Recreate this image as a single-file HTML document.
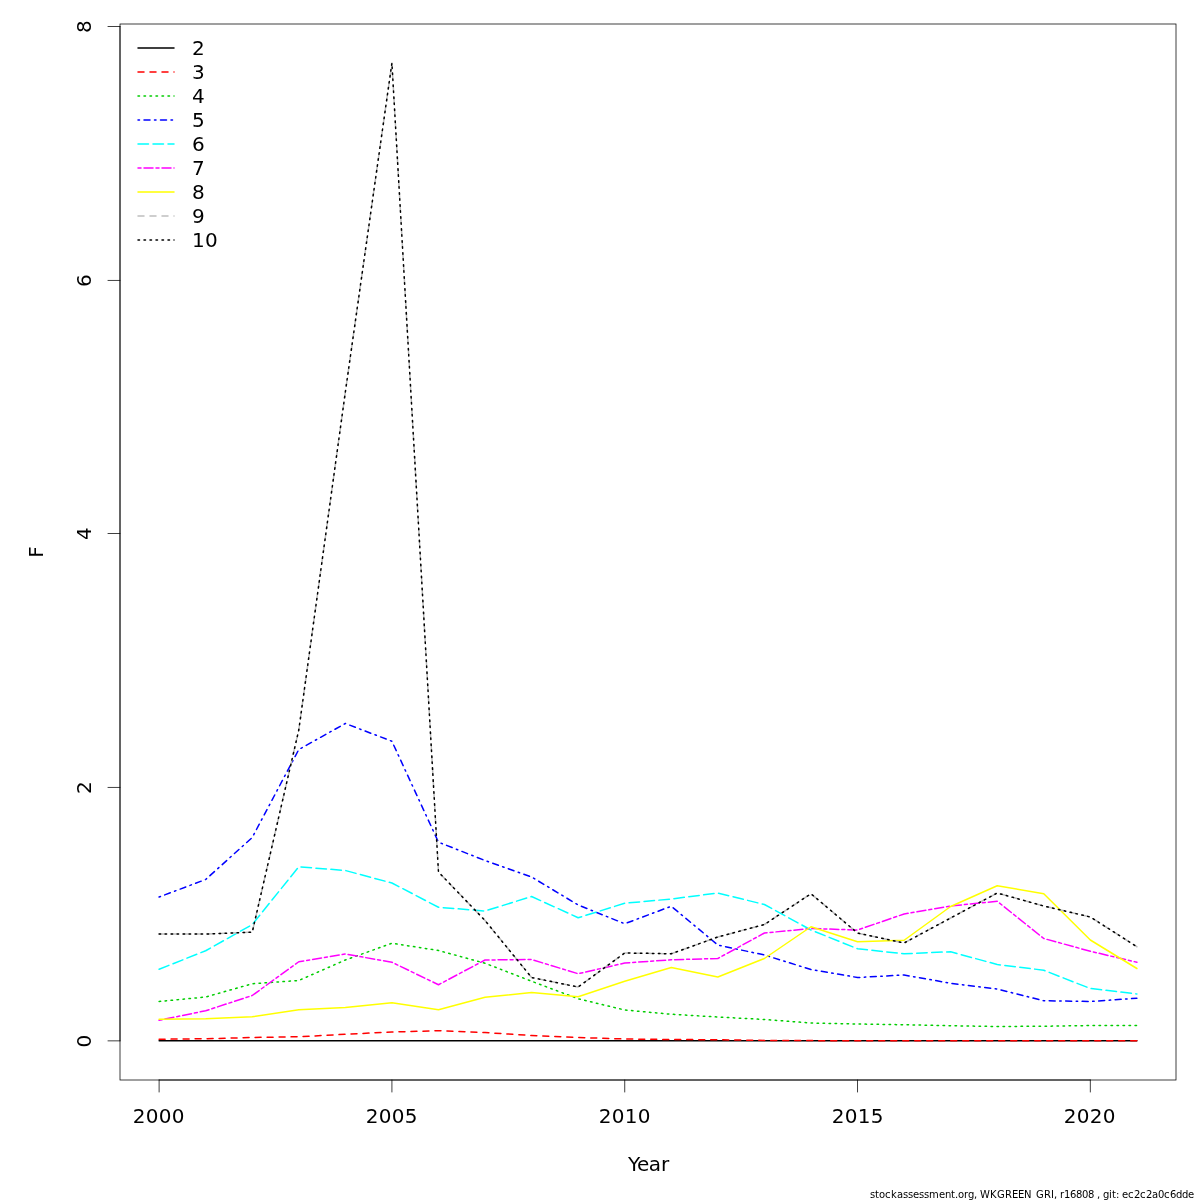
<!DOCTYPE html>
<html lang="en">
<head>
<meta charset="utf-8">
<title>F at age</title>
<style>
html,body{margin:0;padding:0;background:#fff;}
body{width:1200px;height:1200px;overflow:hidden;}
svg{display:block;}
text{font-family:"DejaVu Sans","Liberation Sans",sans-serif;fill:#000;}
.t{font-size:20px;}
.s{font-size:10px;}
.ax{stroke:#000;stroke-width:0.75;fill:none;stroke-linecap:round;stroke-linejoin:round;}
.ln{fill:none;stroke-width:1.5;stroke-linecap:round;stroke-linejoin:round;}
</style>
</head>
<body>
<svg width="1200" height="1200" viewBox="0 0 1200 1200">
<rect x="0" y="0" width="1200" height="1200" fill="#ffffff"/>

<g class="ln">
<polyline points="159.11,1040.85 205.67,1040.85 252.23,1040.85 298.79,1040.85 345.35,1040.85 391.91,1040.85 438.48,1040.85 485.04,1040.85 531.60,1040.85 578.16,1040.85 624.72,1040.85 671.28,1040.85 717.84,1040.85 764.40,1040.85 810.96,1040.85 857.52,1040.85 904.08,1040.85 950.64,1040.85 997.21,1040.85 1043.77,1040.85 1090.33,1040.85 1136.89,1040.85" stroke="#000000"/>
<polyline points="159.11,1039.25 205.67,1038.75 252.23,1037.50 298.79,1036.75 345.35,1034.25 391.91,1032.00 438.48,1030.75 485.04,1032.50 531.60,1035.50 578.16,1037.50 624.72,1039.00 671.28,1039.50 717.84,1039.75 764.40,1040.40 810.96,1040.60 857.52,1040.80 904.08,1040.80 950.64,1040.80 997.21,1040.80 1043.77,1040.80 1090.33,1040.80 1136.89,1040.80" stroke="#FF0000" stroke-dasharray="6 6"/>
<polyline points="159.11,1001.50 205.67,997.00 252.23,983.75 298.79,980.50 345.35,960.00 391.91,943.25 438.48,950.50 485.04,963.25 531.60,981.25 578.16,998.75 624.72,1010.00 671.28,1014.25 717.84,1017.00 764.40,1019.50 810.96,1023.00 857.52,1024.00 904.08,1024.75 950.64,1025.75 997.21,1026.50 1043.77,1026.25 1090.33,1025.50 1136.89,1025.50" stroke="#00CD00" stroke-dasharray="1.5 4.5"/>
<polyline points="159.11,897.00 205.67,879.50 252.23,837.50 298.79,749.50 345.35,723.50 391.91,741.25 438.48,842.20 485.04,860.50 531.60,877.00 578.16,905.00 624.72,923.75 671.28,906.25 717.84,945.00 764.40,955.00 810.96,969.50 857.52,977.50 904.08,975.00 950.64,983.25 997.21,989.00 1043.77,1000.75 1090.33,1001.50 1136.89,998.25" stroke="#0000FF" stroke-dasharray="1.5 4.5 6 4.5"/>
<polyline points="159.11,969.25 205.67,950.75 252.23,924.60 298.79,866.75 345.35,870.50 391.91,883.00 438.48,907.25 485.04,911.00 531.60,896.50 578.16,917.75 624.72,903.25 671.28,899.00 717.84,893.00 764.40,904.50 810.96,930.00 857.52,948.75 904.08,953.75 950.64,951.75 997.21,964.50 1043.77,970.25 1090.33,988.50 1136.89,994.00" stroke="#00FFFF" stroke-dasharray="10.5 4.5"/>
<polyline points="159.11,1020.25 205.67,1010.75 252.23,995.50 298.79,961.75 345.35,954.00 391.91,962.25 438.48,984.75 485.04,960.00 531.60,959.50 578.16,973.75 624.72,963.00 671.28,959.75 717.84,958.50 764.40,933.00 810.96,928.50 857.52,930.00 904.08,914.00 950.64,906.00 997.21,901.25 1043.77,938.50 1090.33,951.25 1136.89,962.25" stroke="#FF00FF" stroke-dasharray="3 3 9 3"/>
<polyline points="159.11,1019.25 205.67,1018.75 252.23,1016.75 298.79,1009.75 345.35,1007.50 391.91,1002.75 438.48,1009.75 485.04,997.25 531.60,992.50 578.16,996.75 624.72,981.25 671.28,967.50 717.84,977.00 764.40,958.50 810.96,926.75 857.52,941.75 904.08,940.25 950.64,906.50 997.21,885.75 1043.77,893.75 1090.33,940.00 1136.89,968.50" stroke="#FFFF00"/>
<polyline points="159.11,934.00 205.67,934.00 252.23,932.25 298.79,730.00 345.35,392.00 391.91,63.10 438.48,872.00 485.04,920.50 531.60,977.50 578.16,987.00 624.72,953.00 671.28,953.75 717.84,937.00 764.40,924.50 810.96,893.75 857.52,933.00 904.08,943.00 950.64,918.00 997.21,893.00 1043.77,906.00 1090.33,917.00 1136.89,946.75" stroke="#BEBEBE" stroke-dasharray="6 6"/>
<polyline points="159.11,934.00 205.67,934.00 252.23,932.25 298.79,730.00 345.35,392.00 391.91,63.10 438.48,872.00 485.04,920.50 531.60,977.50 578.16,987.00 624.72,953.00 671.28,953.75 717.84,937.00 764.40,924.50 810.96,893.75 857.52,933.00 904.08,943.00 950.64,918.00 997.21,893.00 1043.77,906.00 1090.33,917.00 1136.89,946.75" stroke="#000000" stroke-dasharray="1.5 4.5"/>
</g>
<g class="ax">
<path d="M159.11 1080 H1090.33"/>
<path d="M159.11 1080 v12"/>
<path d="M391.91 1080 v12"/>
<path d="M624.72 1080 v12"/>
<path d="M857.52 1080 v12"/>
<path d="M1090.33 1080 v12"/>
<path d="M120 1040.85 V26.50"/>
<path d="M120 1040.85 h-12"/>
<path d="M120 787.45 h-12"/>
<path d="M120 533.50 h-12"/>
<path d="M120 280.45 h-12"/>
<path d="M120 26.50 h-12"/>
<rect x="120" y="24" width="1056" height="1056" stroke-linejoin="miter" stroke-linecap="butt"/>
</g>
<g class="t">
<text x="132.85 145.85 158.85 171.85" y="1123">2000</text>
<text x="365.85 378.85 391.85 404.85" y="1123">2005</text>
<text x="598.85 611.85 624.85 637.85" y="1123">2010</text>
<text x="831.85 844.85 857.85 870.85" y="1123">2015</text>
<text x="1063.85 1076.85 1089.85 1102.85" y="1123">2020</text>
<text text-anchor="middle" transform="translate(91 1041.05) rotate(-90)">0</text>
<text text-anchor="middle" transform="translate(91 787.65) rotate(-90)">2</text>
<text text-anchor="middle" transform="translate(91 533.70) rotate(-90)">4</text>
<text text-anchor="middle" transform="translate(91 280.65) rotate(-90)">6</text>
<text text-anchor="middle" transform="translate(91 26.70) rotate(-90)">8</text>
<text text-anchor="start" x="628 636.9 648.85 660.95" y="1171">Year</text>
<text text-anchor="middle" transform="translate(43 552) rotate(-90)">F</text>
</g>
<g class="ln">
<path d="M138 48 H174" stroke="#000000"/>
<path d="M138 72 H174" stroke="#FF0000" stroke-dasharray="6 6"/>
<path d="M138 96 H174" stroke="#00CD00" stroke-dasharray="1.5 4.5"/>
<path d="M138 120 H174" stroke="#0000FF" stroke-dasharray="1.5 4.5 6 4.5"/>
<path d="M138 144 H174" stroke="#00FFFF" stroke-dasharray="10.5 4.5"/>
<path d="M138 168 H174" stroke="#FF00FF" stroke-dasharray="3 3 9 3"/>
<path d="M138 192 H174" stroke="#FFFF00"/>
<path d="M138 216 H174" stroke="#BEBEBE" stroke-dasharray="6 6"/>
<path d="M138 240 H174" stroke="#000000" stroke-dasharray="1.5 4.5"/>
</g>
<circle cx="174" cy="72" r="0.75" fill="#FF0000"/>
<circle cx="174" cy="96" r="0.75" fill="#00CD00"/>
<circle cx="174" cy="168" r="0.75" fill="#FF00FF"/>
<circle cx="174" cy="216" r="0.75" fill="#BEBEBE"/>
<circle cx="174" cy="240" r="0.75" fill="#000000"/>
<g class="t">
<text x="192" y="55.2">2</text>
<text x="192" y="79.2">3</text>
<text x="192" y="103.2">4</text>
<text x="192" y="127.2">5</text>
<text x="192" y="151.2">6</text>
<text x="192" y="175.2">7</text>
<text x="192" y="199.2">8</text>
<text x="192" y="223.2">9</text>
<text x="192 205" y="247.2">10</text>
</g>
<text class="s" x="870 875 879 885 891 897 903 908 913 919 924 929 939 945 951 955 958 964 968 974 977 980 990 997 1005 1012 1018 1024 1031 1036 1044 1051 1054 1057 1060 1064 1070 1076 1082 1088 1094 1097 1100 1103 1109 1112 1116 1119 1122 1128 1134 1140 1146 1152 1158 1164 1170 1176 1182 1188" y="1198">stockassessment.org, WKGREEN_GRI, r16808 , git: ec2c2a0c6dde</text>
</svg>
</body>
</html>
